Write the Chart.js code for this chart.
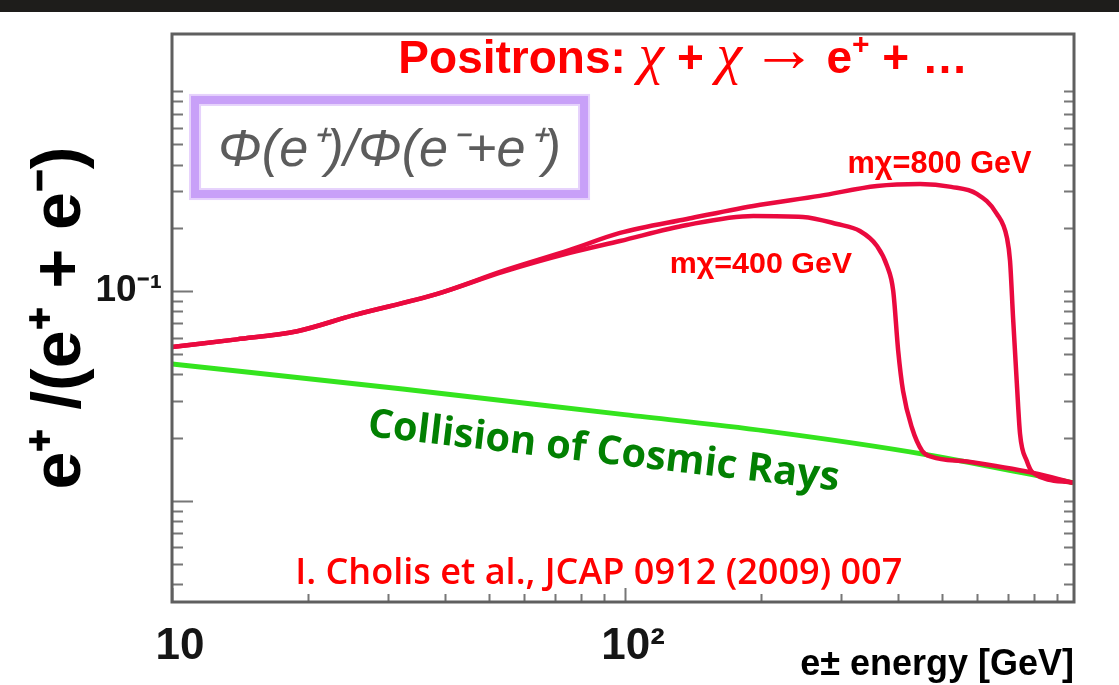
<!DOCTYPE html>
<html lang="en">
<head>
<meta charset="UTF-8" />
<title>Positron fraction</title>
<script src="https://cdn.jsdelivr.net/npm/chart.js"></script>
<style>
  html, body { margin: 0; padding: 0; background: #fff; }
  #wrap { position: relative; width: 1119px; height: 685px; }
  #strip { position: absolute; left: 0; top: 0; width: 1119px; height: 12px; background: #1e1d1b; }
</style>
</head>
<body>
<div id="wrap">
  <canvas id="fractionChart" width="1119" height="685"></canvas>
  <div id="strip"></div>
</div>
<script>
// values (energy in GeV, positron fraction)
const energy800 = [10, 13.9, 18.9, 25.1, 38.5, 53.8, 75.6, 97.5, 137, 192, 269, 360, 448, 525, 598, 662, 697, 708, 719, 733, 745, 771, 796, 975];
const frac800   = [0.0541, 0.0588, 0.0643, 0.0765, 0.0968, 0.1245, 0.1567, 0.1889, 0.2203, 0.254, 0.2836, 0.316, 0.323, 0.313, 0.29, 0.233, 0.179, 0.139, 0.0744, 0.0361, 0.0208, 0.0155, 0.0136, 0.0122];

const energy400 = [10, 13.9, 18.9, 25.1, 38.5, 53.8, 75.6, 97.5, 137, 192, 247, 294, 330, 360, 379, 391, 401, 411, 430, 453, 476, 569, 796, 975];
const frac400   = [0.0541, 0.0588, 0.0643, 0.0765, 0.0968, 0.1232, 0.1517, 0.1729, 0.2062, 0.2276, 0.2252, 0.2083, 0.193, 0.1638, 0.1315, 0.1, 0.0518, 0.0334, 0.0223, 0.0173, 0.0162, 0.0154, 0.0136, 0.0122];

const energyBg = [10, 32.3, 97.5, 206, 464, 975];
const fracBg   = [0.0449, 0.0341, 0.0259, 0.0215, 0.0166, 0.0122];

const xTickValues = [10, 20, 30, 40, 50, 60, 70, 80, 90, 100, 200, 300, 400, 500, 600, 700, 800, 900];
const xMajor = [10, 100];
const xTickText = { 10: '10', 100: '10²' };

const yTickValues = [0.004, 0.005, 0.006, 0.007, 0.008, 0.009,
                     0.01, 0.02, 0.03, 0.04, 0.05, 0.06, 0.07, 0.08, 0.09,
                     0.1, 0.2, 0.3, 0.4, 0.5, 0.6, 0.7, 0.8, 0.9];
const yMajor = [0.01, 0.1];
const yTickText = { 0.1: '10⁻¹' };

const RED = '#ea0a3f';
const GREEN = '#34e41e';
const SANS = '"Liberation Sans", Arial, sans-serif';
const SERIF = '"Liberation Serif", serif';

const toXY = (xs, ys) => xs.map((x, i) => ({ x: x, y: ys[i] }));

// text anchors in data units (energy, fraction)
const anchors = {
  title: { x: 31.6, y: 1.09 },
  boxTL: { x: 10.96, y: 0.858 },
  boxBR: { x: 83.3, y: 0.274 },
  m800: { x: 310, y: 0.365 },
  m400: { x: 125.6, y: 0.122 },
  cosmic: { x: 26.9, y: 0.0204 },
  cite: { x: 18.7, y: 0.00402 }
};

function fitFont(ctx, text, style, family, width) {
  ctx.font = style + ' 100px ' + family;
  const size = 100 * width / ctx.measureText(text).width;
  ctx.font = style + ' ' + size.toFixed(1) + 'px ' + family;
}

const decor = {
  id: 'decor',
  afterDatasetsDraw(chart) {
    const ctx = chart.ctx;
    const a = chart.chartArea;
    const xs = chart.scales.x, ys = chart.scales.y;
    ctx.save();
    // inward tick marks
    ctx.strokeStyle = '#777';
    ctx.lineWidth = 2;
    ctx.beginPath();
    yTickValues.forEach(v => {
      const py = Math.round(ys.getPixelForValue(v)) + 0.5;
      const len = yMajor.includes(v) ? 21 : 11;
      ctx.moveTo(a.left, py); ctx.lineTo(a.left + len, py);
      ctx.moveTo(a.right, py); ctx.lineTo(a.right - 10, py);
    });
    xTickValues.forEach(v => {
      const px = Math.round(xs.getPixelForValue(v)) + 0.5;
      const len = xMajor.includes(v) ? 14 : 8;
      ctx.moveTo(px, a.bottom); ctx.lineTo(px, a.bottom - len);
    });
    ctx.stroke();
    // frame
    ctx.strokeStyle = '#5f5f5f';
    ctx.lineWidth = 3;
    ctx.strokeRect(a.left, a.top, a.right - a.left, a.bottom - a.top);
    ctx.restore();
  },
  afterDraw(chart) {
    const ctx = chart.ctx;
    const xs = chart.scales.x, ys = chart.scales.y;
    const px = v => xs.getPixelForValue(v);
    const py = v => ys.getPixelForValue(v);
    ctx.save();
    ctx.textBaseline = 'alphabetic';
    ctx.textAlign = 'left';

    // title, drawn in pieces
    const parts = [
      ['Positrons: ', 'bold 46px ' + SANS, 0],
      ['χ', 'italic 58px ' + SERIF, 0],
      [' + ', 'bold 46px ' + SANS, 0],
      ['χ', 'italic 58px ' + SERIF, 0],
      ['\u2009', 'bold 46px ' + SANS, 0],
      ['→', '66px ' + SERIF, -2],
      ['\u2009e', 'bold 46px ' + SANS, 0],
      ['+', 'bold 30px ' + SANS, -19],
      [' + …', 'bold 46px ' + SANS, 0]
    ];
    let tx = px(anchors.title.x);
    const ty = py(anchors.title.y);
    ctx.fillStyle = '#ff0000';
    parts.forEach(([t, f, dy]) => {
      ctx.font = f;
      ctx.fillText(t, tx, ty + dy);
      tx += ctx.measureText(t).width;
    });

    // purple box with the ratio
    const bx0 = px(anchors.boxTL.x), by0 = py(anchors.boxTL.y);
    const bx1 = px(anchors.boxBR.x), by1 = py(anchors.boxBR.y);
    ctx.strokeStyle = 'rgba(205,165,250,0.5)';
    ctx.lineWidth = 12;
    ctx.strokeRect(bx0 + 5, by0 + 5, bx1 - bx0 - 10, by1 - by0 - 10);
    ctx.strokeStyle = '#c8a0f8';
    ctx.lineWidth = 8;
    ctx.strokeRect(bx0 + 5, by0 + 5, bx1 - bx0 - 10, by1 - by0 - 10);
    ctx.fillStyle = '#5c5c5c';
    ctx.textAlign = 'center';
    ctx.textBaseline = 'middle';
    fitFont(ctx, 'Φ(e⁺)/Φ(e⁻+e⁺)', 'italic', SANS, 342);
    ctx.fillText('Φ(e⁺)/Φ(e⁻+e⁺)', (bx0 + bx1) / 2, (by0 + by1) / 2 + 4);

    // curve labels
    ctx.textAlign = 'left';
    ctx.textBaseline = 'alphabetic';
    ctx.fillStyle = '#ff0000';
    fitFont(ctx, 'mχ=800 GeV', 'bold', SANS, 184);
    ctx.fillText('mχ=800 GeV', px(anchors.m800.x), py(anchors.m800.y));
    fitFont(ctx, 'mχ=400 GeV', 'bold', SANS, 182);
    ctx.fillText('mχ=400 GeV', px(anchors.m400.x), py(anchors.m400.y));

    // background label, tilted along the line
    ctx.save();
    ctx.translate(px(anchors.cosmic.x), py(anchors.cosmic.y));
    ctx.rotate(6.6 * Math.PI / 180);
    ctx.fillStyle = '#028002';
    fitFont(ctx, 'Collision of Cosmic Rays', 'bold', '"Open Sans", sans-serif', 474);
    ctx.fillText('Collision of Cosmic Rays', 0, 0);
    ctx.restore();

    // reference
    ctx.fillStyle = '#ff0000';
    fitFont(ctx, 'I. Cholis et al., JCAP 0912 (2009) 007', '600', '"Open Sans", sans-serif', 607);
    ctx.fillText('I. Cholis et al., JCAP 0912 (2009) 007', px(anchors.cite.x), py(anchors.cite.y));
    ctx.restore();
  }
};

new Chart(document.getElementById('fractionChart'), {
  type: 'line',
  data: {
    datasets: [
      {
        label: 'mχ=800 GeV',
        data: toXY(energy800, frac800),
        borderColor: RED,
        borderWidth: 4.5,
        pointRadius: 0,
        cubicInterpolationMode: 'monotone',
        fill: false
      },
      {
        label: 'mχ=400 GeV',
        data: toXY(energy400, frac400),
        borderColor: RED,
        borderWidth: 4.5,
        pointRadius: 0,
        cubicInterpolationMode: 'monotone',
        fill: false
      },
      {
        label: 'Collision of Cosmic Rays',
        data: toXY(energyBg, fracBg),
        borderColor: GREEN,
        borderWidth: 5,
        pointRadius: 0,
        cubicInterpolationMode: 'monotone',
        fill: false
      }
    ]
  },
  options: {
    responsive: false,
    animation: false,
    layout: { padding: { top: 34, right: 45, bottom: 0, left: 0 } },
    plugins: { legend: { display: false }, tooltip: { enabled: false } },
    scales: {
      x: {
        type: 'logarithmic',
        min: 10,
        max: 980,
        afterBuildTicks: s => { s.ticks = xTickValues.map(v => ({ value: v, major: xMajor.includes(v) })); },
        afterFit: s => { s.height = 83; },
        grid: { display: false, drawTicks: false },
        border: { display: false },
        ticks: {
          autoSkip: false,
          maxRotation: 0,
          padding: 18,
          labelOffset: 8,
          color: '#151515',
          font: { family: SANS, size: 44, weight: 'bold' },
          callback: v => xTickText[v] || ''
        },
        title: {
          display: true,
          text: 'e± energy [GeV]',
          align: 'end',
          color: '#000',
          font: { family: SANS, size: 36, weight: 'bold', lineHeight: 1 },
          padding: { top: 0, bottom: 2 }
        }
      },
      y: {
        type: 'logarithmic',
        min: 0.0033,
        max: 1.674,
        afterBuildTicks: s => { s.ticks = yTickValues.map(v => ({ value: v, major: yMajor.includes(v) })); },
        afterFit: s => { s.width = 172; },
        grid: { display: false, drawTicks: false },
        border: { display: false },
        ticks: {
          autoSkip: false,
          padding: 10,
          color: '#151515',
          font: { family: SANS, size: 37, weight: 'bold' },
          callback: v => yTickText[v] || ''
        },
        title: {
          display: true,
          text: 'e⁺ /(e⁺ + e⁻)',
          color: '#000',
          font: { family: SANS, size: 68, weight: 'bold', lineHeight: 1 },
          padding: { top: 27, bottom: 0 }
        }
      }
    }
  },
  plugins: [decor]
});
</script>
</body>
</html>
